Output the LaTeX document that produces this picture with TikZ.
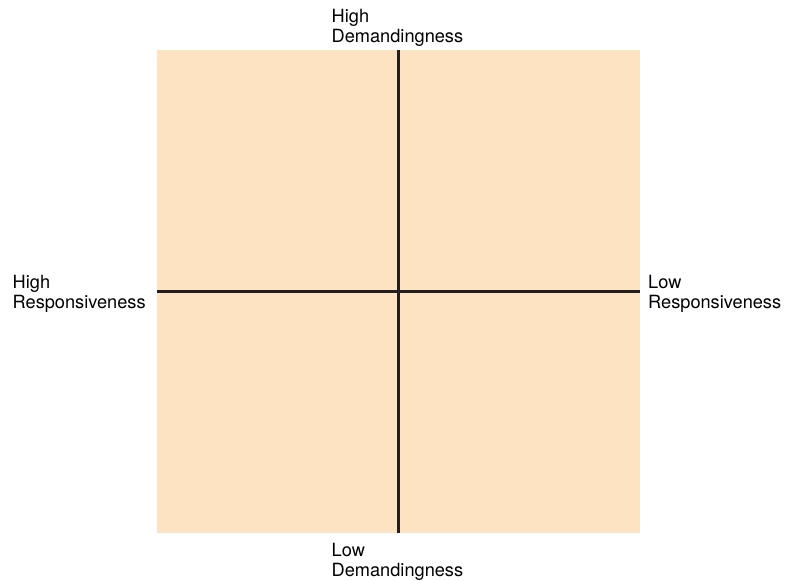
\documentclass[tikz,border=0pt]{standalone}
\usepackage{fontspec}
\setmainfont{TeX Gyre Heros}
\definecolor{quadfill}{RGB}{253,227,194}
\definecolor{axisline}{RGB}{35,31,32}
\tikzset{
  quad/.style={fill=quadfill, draw=none, minimum width=483pt, minimum height=483pt, inner sep=0pt, outer sep=0pt},
  axis/.style={draw=axisline, line width=2.4pt},
  lbl/.style={align=left, inner sep=0pt, anchor=base west, font=\fontsize{18.2}{20}\selectfont, text=black}
}
\begin{document}
\begin{tikzpicture}[x=1pt,y=-1pt]
\useasboundingbox (0,0) rectangle (788,581);
\node[quad] (grid) at (398.5,291.5) {};
\draw[axis] (grid.north) -- (grid.south);
\draw[axis] (grid.west) -- (grid.east);
\node[lbl] (top) at (331.5,42.7) {High\\Demandingness};
\node[lbl] (bottom) at (331.5,576.7) {Low\\Demandingness};
\node[lbl] (left) at (12.5,308.3) {High\\Responsiveness};
\node[lbl] (right) at (648,308.3) {Low\\Responsiveness};
\end{tikzpicture}
\end{document}
